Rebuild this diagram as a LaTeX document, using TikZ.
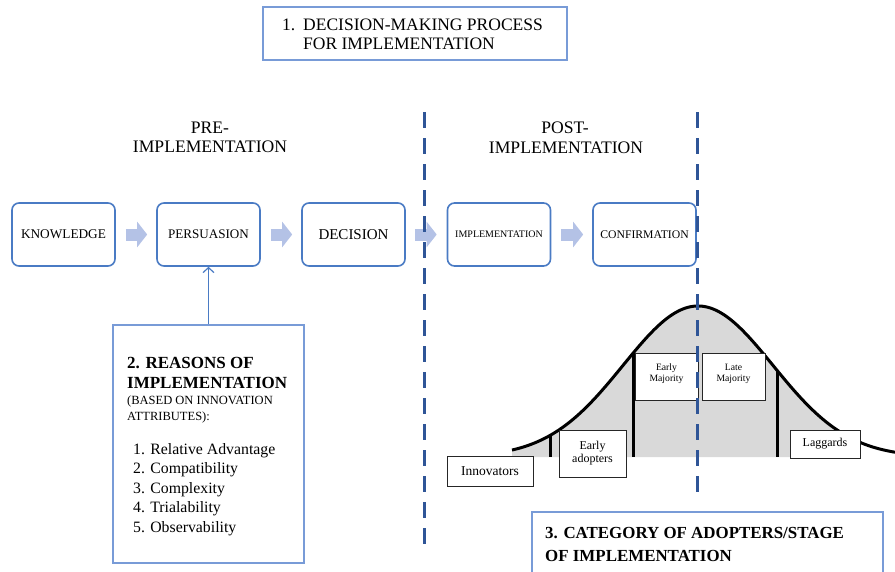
\documentclass[tikz,border=0pt]{standalone}
\usepackage{fontspec}
\setmainfont{Liberation Serif}
\usetikzlibrary{arrows.meta}
\definecolor{boxblue}{RGB}{74,123,196}
\definecolor{titleblue}{RGB}{120,155,215}
\definecolor{arrowfill}{RGB}{180,194,230}
\definecolor{dashblue}{RGB}{47,85,151}
\definecolor{bellgray}{RGB}{217,217,217}
\begin{document}
\begin{tikzpicture}[x=1pt,y=-1pt,
  procbox/.style={draw=boxblue, line width=1.6pt, rounded corners=7pt, fill=white,
    minimum width=103pt, minimum height=63pt, inner sep=0pt, text=black},
  titlebox/.style={draw=titleblue, line width=1.4pt, fill=white, inner sep=0pt},
  blockarrow/.style={arrowfill, line width=12pt, -{Triangle[length=10pt,width=25pt]}},
  adbox/.style={draw=black!85, line width=0.9pt, fill=white, inner sep=0pt, align=center, text=black},
  txt/.style={anchor=base west, inner sep=0pt, text=black},
  ctxt/.style={anchor=base, inner sep=0pt, text=black},
  divider/.style={dashblue, line width=3pt, dash pattern=on 16pt off 10pt},
  bellline/.style={black, line width=3pt}
]
\useasboundingbox (0,0) rectangle (895,571);
\clip (0,0) rectangle (895,571);

% Title 1
\node[titlebox, minimum width=304pt, minimum height=53pt] (title1) at (415,33.5) {};
\node[txt, font=\fontsize{17.5}{20}\selectfont] (t1a) at (282,30) {1.};
\node[txt, font=\fontsize{17.5}{20}\selectfont] (t1b) at (303,30) {DECISION-MAKING PROCESS};
\node[txt, font=\fontsize{17.5}{20}\selectfont] (t1c) at (303,49) {FOR IMPLEMENTATION};

% Phase labels
\node[ctxt, font=\fontsize{17.6}{20}\selectfont] (pre1) at (210,133) {PRE-};
\node[ctxt, font=\fontsize{17.6}{20}\selectfont] (pre2) at (210,152) {IMPLEMENTATION};
\node[ctxt, font=\fontsize{17.6}{20}\selectfont] (post1) at (565,133) {POST-};
\node[ctxt, font=\fontsize{17.6}{20}\selectfont] (post2) at (566,153) {IMPLEMENTATION};

% Bell curve
\fill[bellgray] (512,457) -- plot[domain=512:860, samples=120] (\x,{457-151*exp(-0.5*((\x-698)/75)^2)}) -- (860,457) -- cycle;
\coordinate (v1t) at (550,436); \coordinate (v1b) at (550,457);
\coordinate (v2t) at (633,353); \coordinate (v2b) at (633,457);
\coordinate (v3t) at (777,370); \coordinate (v3b) at (777,457);
\draw[bellline] (v1t) -- (v1b);
\draw[bellline] (v2t) -- (v2b);
\draw[bellline] (v3t) -- (v3b);
\draw[bellline] plot[domain=512:895, samples=160] (\x,{457-151*exp(-0.5*((\x-698)/75)^2)});

% Adopter boxes
\node[adbox, minimum width=86pt, minimum height=30pt, font=\fontsize{13.5}{15}\selectfont] (innov) at (490,471) {Innovators};
\node[adbox, minimum width=67pt, minimum height=47pt, font=\fontsize{12}{13}\selectfont] (early) at (592.5,453.5) {Early\\adopters};
\node[adbox, minimum width=63pt, minimum height=47pt] (emaj) at (666.5,376.5) {};
\node[adbox, minimum width=63pt, minimum height=47pt] (lmaj) at (733.5,376.5) {};
\node[ctxt, font=\fontsize{9.7}{11}\selectfont] (emaj1) at (666.5,370) {Early};
\node[ctxt, font=\fontsize{9.7}{11}\selectfont] (emaj2) at (666.5,381) {Majority};
\node[ctxt, font=\fontsize{9.7}{11}\selectfont] (lmaj1) at (733.5,370) {Late};
\node[ctxt, font=\fontsize{9.7}{11}\selectfont] (lmaj2) at (733.5,381) {Majority};
\node[adbox, minimum width=70pt, minimum height=28pt, font=\fontsize{12}{14}\selectfont] (lagg) at (825,444) {Laggards};

% Process boxes
\node[procbox, font=\fontsize{13.3}{15}\selectfont] (know) at (63.5,234.5) {KNOWLEDGE};
\node[procbox, font=\fontsize{13.1}{15}\selectfont] (pers) at (208.5,234.5) {PERSUASION};
\node[procbox, font=\fontsize{15}{17}\selectfont] (deci) at (353.5,234.5) {DECISION};
\node[procbox, font=\fontsize{10}{12}\selectfont] (impl) at (499,234.5) {IMPLEMENTATION};
\node[procbox, font=\fontsize{11.7}{14}\selectfont] (conf) at (644.5,234.5) {CONFIRMATION};

\draw[blockarrow, shorten <=10pt, shorten >=9pt] (know.east) -- (pers.west);
\draw[blockarrow, shorten <=10pt, shorten >=9pt] (pers.east) -- (deci.west);
\draw[blockarrow, shorten <=9pt, shorten >=10pt] (deci.east) -- (impl.west);
\draw[blockarrow, shorten <=10pt, shorten >=9pt] (impl.east) -- (conf.west);

% Reasons box
\node[titlebox, minimum width=191pt, minimum height=238pt] (reasons) at (208.5,444) {};
\draw[boxblue, line width=1.2pt, -{Straight Barb[length=5pt,width=11pt]}] (reasons.north) -- (pers.south);
\node[txt, font=\bfseries\fontsize{17}{20}\selectfont] (r1) at (127,368) {2. REASONS OF};
\node[txt, font=\bfseries\fontsize{17}{20}\selectfont] (r2) at (127,388) {IMPLEMENTATION};
\node[txt, font=\fontsize{12.5}{15}\selectfont] (r3) at (127,404) {(BASED ON INNOVATION};
\node[txt, font=\fontsize{12.5}{15}\selectfont] (r4) at (127,420) {ATTRIBUTES):};
\node[txt, font=\fontsize{15.8}{19}\selectfont] (l1) at (133,454) {1. Relative Advantage};
\node[txt, font=\fontsize{15.8}{19}\selectfont] (l2) at (133,473) {2. Compatibility};
\node[txt, font=\fontsize{15.8}{19}\selectfont] (l3) at (133,493) {3. Complexity};
\node[txt, font=\fontsize{15.8}{19}\selectfont] (l4) at (133,512) {4. Trialability};
\node[txt, font=\fontsize{15.8}{19}\selectfont] (l5) at (133,532) {5. Observability};

% Title 3
\node[titlebox, minimum width=351pt, minimum height=70pt] (title3) at (707.5,547) {};
\node[txt, font=\bfseries\fontsize{16.9}{20}\selectfont] (t3a) at (545,538) {3. CATEGORY OF ADOPTERS/STAGE};
\node[txt, font=\bfseries\fontsize{16.9}{20}\selectfont] (t3b) at (545,561) {OF IMPLEMENTATION};

% Dividers
\coordinate (d1t) at (424,112); \coordinate (d1b) at (424,554);
\coordinate (d2t) at (697.5,112); \coordinate (d2b) at (697.5,502);
\draw[divider] (d1t) -- (d1b);
\draw[divider] (d2t) -- (d2b);
\end{tikzpicture}
\end{document}
